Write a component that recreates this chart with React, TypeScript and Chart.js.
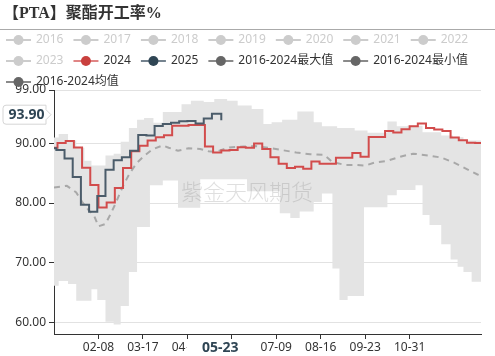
import React, { useEffect, useRef } from 'react';
import { Chart, registerables } from 'chart.js';

Chart.register(...registerables);

const FONT = '"Noto Sans", "Noto Sans CJK SC", sans-serif';

const titleText = '【PTA】聚酯开工率%';
const watermarkText = '紫金天风期货';

const legendNames = ['2016', '2017', '2018', '2019', '2020', '2021', '2022', '2023', '2024', '2025', '2016-2024最大值', '2016-2024最小值', '2016-2024均值'];
const legendActive = [false, false, false, false, false, false, false, false, true, true, true, true, true];
const legendLineColors = ['#ccc', '#ccc', '#ccc', '#ccc', '#ccc', '#ccc', '#ccc', '#ccc', '#e08585', '#75838f', '#8a8a8a', '#8a8a8a', '#8a8a8a'];
const legendDotColors = ['#ccc', '#ccc', '#ccc', '#ccc', '#ccc', '#ccc', '#ccc', '#ccc', '#c9403e', '#2f4554', '#666666', '#666666', '#666666'];

// x axis: day index in year (01-01 = 0, 12-31 = 365)
const xTickDays = [38, 76, 114, 152, 190, 228, 266, 304];
const xTickLabels = ['02-08', '03-17', '04-24', '06-01', '07-09', '08-16', '09-23', '10-31'];
const yTickValues = [60, 70, 80, 90, 99];

const pointerDay = 143;
const pointerDayLabel = '05-23';
const pointerValue = 94.85;
const pointerValueLabel = '93.90';

const days2024 = [0, 3, 10, 17, 24, 31, 38, 45, 52, 59, 66, 73, 80, 87, 94, 101, 108, 115, 122, 129, 136, 143, 150, 157, 164, 171, 178, 185, 192, 199, 206, 213, 220, 227, 234, 241, 248, 255, 262, 269, 276, 283, 290, 297, 304, 311, 318, 325, 332, 339, 346, 353, 360, 365];
const values2024 = [89.3, 90.1, 90.45, 89.35, 85.95, 83.05, 79.25, 80.1, 82.55, 85.9, 88.7, 89.65, 90.5, 91.05, 91.4, 93.0, 93.0, 93.1, 93.1, 89.5, 88.5, 88.85, 88.9, 89.4, 89.3, 90.0, 89.1, 87.7, 86.6, 85.9, 86.1, 85.75, 87.0, 86.6, 86.6, 87.6, 87.6, 88.4, 87.8, 91.1, 91.1, 92.1, 91.85, 92.4, 92.9, 93.35, 92.6, 92.35, 92.1, 91.0, 90.55, 90.15, 90.1, 90.1];

const days2025 = [0, 2, 9, 16, 23, 30, 37, 44, 51, 58, 65, 72, 79, 86, 93, 100, 107, 114, 121, 128, 135, 143];
const values2025 = [89.2, 88.9, 87.5, 84.4, 79.7, 78.55, 81.2, 85.6, 87.2, 87.7, 88.8, 91.45, 91.35, 92.95, 93.3, 93.5, 93.75, 93.8, 93.35, 94.2, 95.0, 93.9];

const daysMean = [0, 11, 19, 24, 30, 34, 38, 44, 49, 53, 59, 65, 71, 77, 84, 93, 98, 106, 115, 125, 132, 138, 150, 162, 172, 183, 195, 207, 219, 231, 238, 249, 259, 266, 274, 285, 296, 307, 320, 331, 342, 352, 362, 365];
const valuesMean = [82.6, 82.9, 81.8, 80.2, 78.7, 78.0, 76.1, 76.5, 78.4, 80.1, 82.9, 85.1, 86.8, 87.9, 89.0, 89.7, 89.3, 88.8, 89.2, 89.1, 88.7, 88.6, 89.35, 89.5, 89.6, 89.3, 88.9, 88.5, 88.2, 88.1, 86.9, 86.4, 86.4, 86.3, 86.8, 87.1, 87.8, 88.3, 88.0, 87.65, 86.8, 85.8, 84.8, 84.6];

// 2016-2024 max / min band, step positions shared by both edges
const daysBand = [0, 4, 12, 19, 26, 32, 37, 44, 51, 57, 64, 71, 77, 82, 85, 93, 106, 109, 117, 125, 128, 137, 148, 157, 165, 169, 179, 186, 193, 195, 202, 208, 210, 222, 229, 238, 242, 244, 251, 257, 265, 268, 285, 293, 302, 309, 315, 321, 331, 339, 341, 345, 350, 357, 365];
const valuesMax = [91.0, 91.6, 90.5, 89.3, 87.1, 86.3, 86.3, 88.0, 88.3, 90.3, 92.6, 94.0, 94.3, 94.3, 93.5, 95.3, 95.3, 96.6, 97.2, 97.2, 97.0, 97.5, 97.2, 96.4, 96.4, 95.8, 93.3, 93.6, 93.6, 94.0, 94.0, 95.4, 95.4, 93.6, 92.9, 92.9, 92.6, 92.6, 92.6, 92.2, 92.2, 91.8, 93.7, 92.9, 93.0, 93.0, 91.9, 91.9, 91.35, 91.35, 91.05, 91.05, 90.5, 90.5, 90.5];
const valuesMin = [66.1, 66.9, 66.4, 63.6, 63.6, 65.5, 63.7, 60.05, 59.6, 62.7, 68.4, 76.0, 76.0, 83.0, 83.0, 83.8, 79.2, 79.2, 79.2, 84.0, 84.0, 84.0, 84.0, 84.0, 82.0, 82.0, 82.0, 82.0, 78.3, 78.3, 77.5, 77.5, 78.6, 80.2, 81.6, 69.0, 69.0, 63.7, 64.4, 64.4, 79.3, 79.3, 81.3, 82.2, 82.2, 83.0, 78.0, 76.3, 73.1, 70.5, 70.5, 69.3, 68.4, 66.8, 66.0];

const toPoints = (d: number[], v: number[]) => d.map((x, i) => ({ x, y: v[i] }));

const decorPlugin = {
  id: 'decor',
  afterDatasetsDraw(chart: any) {
    const { ctx, chartArea } = chart;
    ctx.save();
    ctx.font = `300 22px "Noto Sans CJK SC", sans-serif`;
    ctx.fillStyle = 'rgba(110,110,110,0.22)';
    ctx.textAlign = 'center';
    ctx.textBaseline = 'middle';
    ctx.fillText(watermarkText, chartArea.left + 193, chartArea.top + 102);
    ctx.restore();
  },
  afterDraw(chart: any) {
    const { ctx, scales } = chart;
    const W = chart.width;
    ctx.save();
    // title
    ctx.font = `bold 16px "Liberation Serif", "Noto Sans CJK SC", serif`;
    ctx.fillStyle = '#333';
    ctx.textBaseline = 'middle';
    ctx.textAlign = 'left';
    ctx.fillText(titleText, 3, 14);
    ctx.strokeStyle = '#aaaaaa';
    ctx.lineWidth = 1;
    ctx.beginPath();
    ctx.moveTo(0, 29.5);
    ctx.lineTo(W, 29.5);
    ctx.stroke();

    // legend
    ctx.font = `12px ${FONT}`;
    let x = 6;
    let y = 40;
    legendNames.forEach((name, i) => {
      const tw = ctx.measureText(name).width;
      const w = 30 + tw;
      if (x + w > 490 && x > 6) {
        x = 6;
        y += 21;
      }
      ctx.strokeStyle = legendLineColors[i];
      ctx.lineWidth = 2;
      ctx.beginPath();
      ctx.moveTo(x, y);
      ctx.lineTo(x + 25, y);
      ctx.stroke();
      ctx.fillStyle = legendDotColors[i];
      ctx.beginPath();
      ctx.arc(x + 12.5, y, 5, 0, Math.PI * 2);
      ctx.fill();
      ctx.fillStyle = legendActive[i] ? '#333' : '#ccc';
      ctx.fillText(name, x + 30, y);
      x += w + 10;
    });

    // x axis pointer label
    const px = scales.x.getPixelForValue(pointerDay);
    const by = scales.x.top;
    ctx.fillStyle = '#fff';
    ctx.fillRect(px - 35, by + 5, 62, 20);
    ctx.font = `bold 14px ${FONT}`;
    ctx.fillStyle = '#2f4554';
    ctx.textAlign = 'center';
    ctx.fillText(pointerDayLabel, px - 1, by + 14);

    // y axis pointer label
    const py = scales.y.getPixelForValue(pointerValue);
    const l = 3, r = 46, t = py - 9.5, b = py + 9.5, rad = 3;
    ctx.beginPath();
    ctx.moveTo(l + rad, t);
    ctx.lineTo(r, t);
    ctx.lineTo(r, py - 5);
    ctx.lineTo(r + 5, py);
    ctx.lineTo(r, py + 5);
    ctx.lineTo(r, b);
    ctx.lineTo(l + rad, b);
    ctx.arcTo(l, b, l, b - rad, rad);
    ctx.lineTo(l, t + rad);
    ctx.arcTo(l, t, l + rad, t, rad);
    ctx.closePath();
    ctx.fillStyle = '#fff';
    ctx.fill();
    ctx.strokeStyle = '#d5d5d5';
    ctx.lineWidth = 1;
    ctx.stroke();
    ctx.fillStyle = '#2f4554';
    ctx.fillText(pointerValueLabel, 26.5, py + 0.5);
    ctx.restore();
  },
};

export default function App() {
  const ref = useRef<HTMLCanvasElement>(null);
  useEffect(() => {
    const canvas = ref.current;
    if (!canvas) return;
    Chart.defaults.font.family = FONT;
    const chart = new Chart(canvas, {
      type: 'line',
      data: {
        datasets: [
          { label: '2025', data: toPoints(days2025, values2025), borderColor: '#4b5c6a', borderWidth: 2, stepped: 'before', pointRadius: 0, fill: false },
          { label: '2024', data: toPoints(days2024, values2024), borderColor: '#d24c4c', borderWidth: 2, stepped: 'before', pointRadius: 0, fill: false },
          { label: '2016-2024均值', data: toPoints(daysMean, valuesMean), borderColor: '#a8a8a8', borderWidth: 2, borderDash: [6, 5], pointRadius: 0, tension: 0, fill: false },
          { label: '2016-2024最大值', data: toPoints(daysBand, valuesMax), borderColor: 'rgba(0,0,0,0)', borderWidth: 0, backgroundColor: '#e4e4e4', stepped: 'before', pointRadius: 0, fill: '+1' },
          { label: '2016-2024最小值', data: toPoints(daysBand, valuesMin), borderColor: 'rgba(0,0,0,0)', borderWidth: 0, stepped: 'before', pointRadius: 0, fill: false },
        ],
      },
      options: {
        responsive: false,
        animation: false,
        devicePixelRatio: 1,
        layout: { padding: { top: 90, right: 14, left: 0, bottom: 0 } },
        plugins: { legend: { display: false }, title: { display: false }, tooltip: { enabled: false } },
        scales: {
          x: {
            type: 'linear', min: 0, max: 365,
            afterBuildTicks: (s: any) => { s.ticks = xTickDays.map((v) => ({ value: v })); },
            afterFit: (s: any) => { s.height = 22; },
            grid: { drawOnChartArea: false, drawTicks: true, tickLength: 5, tickColor: '#333' },
            border: { color: '#333', width: 1 },
            ticks: {
              autoSkip: false, maxRotation: 0, padding: 1, color: '#333', font: { size: 12, family: FONT },
              callback: (v: any) => { const i = xTickDays.indexOf(Number(v)); return i >= 0 ? xTickLabels[i] : ''; },
            },
          },
          y: {
            type: 'linear', min: 58, max: 99,
            afterBuildTicks: (s: any) => { s.ticks = yTickValues.map((v) => ({ value: v })); },
            afterFit: (s: any) => { s.width = 54; },
            grid: { color: '#e2e2e2', tickColor: '#333', tickLength: 5 },
            border: { color: '#333', width: 1 },
            ticks: { autoSkip: false, padding: 3, color: '#333', font: { size: 12, family: FONT }, callback: (v: any) => Number(v).toFixed(2) },
          },
        },
      },
      plugins: [decorPlugin],
    } as any);
    return () => chart.destroy();
  }, []);
  return (
    <div style={{ position: 'fixed', left: 0, top: 0, width: 495, height: 356, background: '#fff' }}>
      <canvas ref={ref} width={495} height={356} style={{ display: 'block', width: 495, height: 356 }} />
    </div>
  );
}
